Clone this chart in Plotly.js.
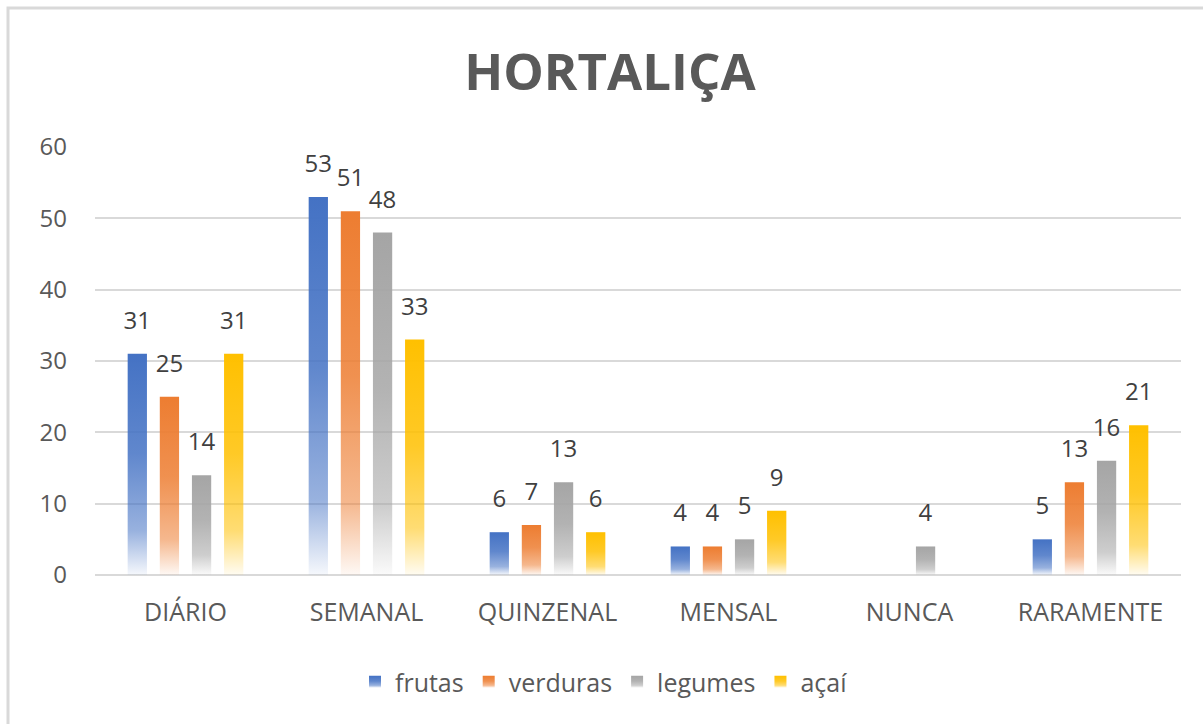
<!DOCTYPE html>
<html>
<head>
<meta charset="utf-8">
<script src="https://cdn.plot.ly/plotly-3.0.1.min.js"></script>
<style>
  html, body { margin: 0; padding: 0; background: #ffffff; }
  #chart { width: 1203px; height: 724px; }
</style>
</head>
<body>
<div id="chart"></div>
<script>
const categories = ["DIÁRIO", "SEMANAL", "QUINZENAL", "MENSAL", "NUNCA", "RARAMENTE"];
const seriesNames = ["frutas", "verduras", "legumes", "açaí"];
const frutas   = [31, 53, 6, 4, 0, 5];
const verduras = [25, 51, 7, 4, 0, 13];
const legumes  = [14, 48, 13, 5, 4, 16];
const acai     = [31, 33, 6, 9, 0, 21];
const seriesValues = [frutas, verduras, legumes, acai];
const colors = ["#4472C4", "#ED7D31", "#A5A5A5", "#FFC000"];

const FONT = "'Open Sans', 'Noto Sans', sans-serif";

const traces = seriesValues.map((vals, i) => ({
  type: "bar",
  name: seriesNames[i],
  x: categories,
  y: vals,
  text: vals.map(v => v > 0 ? String(v) : ""),
  textposition: "outside",
  constraintext: "none",
  cliponaxis: false,
  textfont: { family: FONT, size: 24, color: "#404040" },
  marker: { color: colors[i], line: { width: 0 } },
  hoverinfo: "x+y+name"
}));

const W = 1203, H = 724;
const ml = 95, mr = 22, mt = 147, mb = 149;
const pw = W - ml - mr, ph = H - mt - mb;
const px = p => (p - ml) / pw;
const py = p => (H - mb - p) / ph;

const layout = {
  width: W, height: H,
  paper_bgcolor: "#ffffff",
  plot_bgcolor: "#ffffff",
  margin: { l: ml, r: mr, t: mt, b: mb, pad: 0, autoexpand: false },
  font: { family: FONT, color: "#595959", size: 24 },
  title: {
    text: "<b>HORTALIÇA</b>",
    font: { family: FONT, size: 51, color: "#595959" },
    x: 0.507, xanchor: "center",
    y: 1 - 72 / H, yanchor: "middle"
  },
  barmode: "group",
  bargap: 0.29,
  bargroupgap: 0.4,
  xaxis: {
    type: "category",
    showgrid: false,
    showline: false,
    zeroline: false,
    ticks: "",
    tickangle: 0,
    automargin: false,
    tickfont: { family: FONT, size: 25, color: "#595959" },
    ticklabelstandoff: 20,
    fixedrange: true
  },
  yaxis: {
    range: [0, 60],
    dtick: 10,
    showgrid: true,
    gridcolor: "#d9d9d9",
    gridwidth: 1.5,
    zeroline: true,
    zerolinecolor: "#d9d9d9",
    zerolinewidth: 2,
    showline: false,
    ticks: "",
    automargin: false,
    tickfont: { family: FONT, size: 24, color: "#595959" },
    ticklabelstandoff: 27,
    fixedrange: true
  },
  legend: {
    orientation: "h",
    x: px(604), xanchor: "center",
    y: py(682), yanchor: "middle",
    font: { family: FONT, size: 25, color: "#595959" },
    itemwidth: 30,
    traceorder: "normal"
  },
  shapes: [{
    type: "rect", xref: "paper", yref: "paper",
    x0: px(8), x1: px(1230), y0: py(750), y1: py(8),
    line: { color: "#d9d9d9", width: 3 },
    fillcolor: "rgba(0,0,0,0)",
    layer: "below"
  }]
};

function applyGradients(gd) {
  const svg = gd.querySelector("svg.main-svg");
  if (!svg) return;
  const NS = "http://www.w3.org/2000/svg";
  let defs = svg.querySelector("defs");
  if (!defs) { defs = document.createElementNS(NS, "defs"); svg.insertBefore(defs, svg.firstChild); }
  colors.forEach((c, i) => {
    const id = "barGrad" + i;
    if (document.getElementById(id)) return;
    const g = document.createElementNS(NS, "linearGradient");
    g.setAttribute("id", id);
    g.setAttribute("x1", "0"); g.setAttribute("y1", "0");
    g.setAttribute("x2", "0"); g.setAttribute("y2", "1");
    [[0, 1], [0.45, 0.85], [0.8, 0.55], [1, 0.05]].forEach(([o, op]) => {
      const s = document.createElementNS(NS, "stop");
      s.setAttribute("offset", o);
      s.setAttribute("stop-color", c);
      s.setAttribute("stop-opacity", op);
      g.appendChild(s);
    });
    defs.appendChild(g);
  });
  const barTraces = gd.querySelectorAll(".barlayer .trace");
  barTraces.forEach((t, i) => {
    t.querySelectorAll(".point path").forEach(p => { p.style.fill = "url(#barGrad" + i + ")"; });
    t.querySelectorAll(".point text").forEach(tx => {
      if (tx.getAttribute("data-shifted")) return;
      const tr = tx.getAttribute("transform") || "";
      tx.setAttribute("transform", "translate(0,-15) " + tr);
      tx.setAttribute("data-shifted", "1");
    });
  });
  const legTraces = gd.querySelectorAll(".legend .traces");
  legTraces.forEach((t, i) => {
    t.querySelectorAll(".legendpoints path").forEach(p => { p.style.fill = "url(#barGrad" + i + ")"; });
  });
}

Plotly.newPlot("chart", traces, layout, { displayModeBar: false }).then(gd => {
  applyGradients(gd);
  gd.on("plotly_afterplot", () => applyGradients(gd));
});
</script>
</body>
</html>
